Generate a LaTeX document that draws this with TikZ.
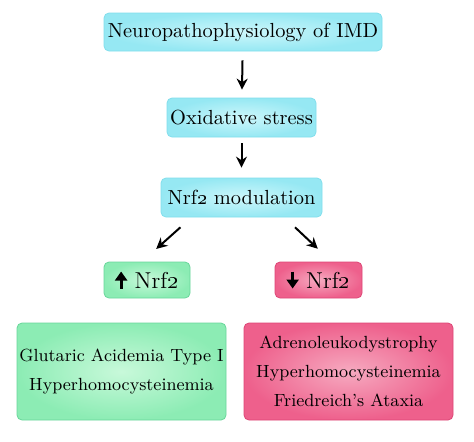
\documentclass[tikz,border=0pt]{standalone}
\usetikzlibrary{arrows.meta,shadings}

\definecolor{cyanout}{RGB}{150,232,243}
\definecolor{cyanin}{RGB}{205,247,251}
\definecolor{cyanline}{RGB}{130,222,236}
\definecolor{greenout}{RGB}{140,236,180}
\definecolor{greenin}{RGB}{200,249,218}
\definecolor{greenline}{RGB}{105,214,155}
\definecolor{pinkout}{RGB}{238,96,140}
\definecolor{pinkin}{RGB}{246,170,192}
\definecolor{pinkline}{RGB}{222,70,118}

\newcommand{\upmark}{\tikz[baseline=0pt]\draw[line width=1.6pt,-{Triangle[length=4.5pt,width=6pt]}] (0,0)--(0,8.5pt);}
\newcommand{\downmark}{\tikz[baseline=0pt]\draw[line width=1.6pt,-{Triangle[length=4.5pt,width=6pt]}] (0,8.5pt)--(0,0);}

\begin{document}
\begin{tikzpicture}[x=0.5pt,y=-0.5pt]

    \tikzset{
      box/.style={
        rounded corners=2.5pt,
        inner sep=0pt,
        align=center,
        font=\fontsize{10.2}{14.5}\selectfont,
        line width=0.4pt,
      },
      cyanbox/.style={box,draw=cyanline,inner color=cyanin,outer color=cyanout},
      greenbox/.style={box,draw=greenline,inner color=greenin,outer color=greenout},
      pinkbox/.style={box,draw=pinkline,inner color=pinkin,outer color=pinkout},
      small/.style={font=\fontsize{11.5}{14}\selectfont},
      big/.style={font=\fontsize{8.8}{14.6}\selectfont},
      arr/.style={line width=1pt,-{Stealth[length=5.5pt,width=5.5pt]}},
    }
    \useasboundingbox[fill=white] (0,0) rectangle (474,441);

	\node[cyanbox,minimum width=139pt,minimum height=19pt] (imd) at (243,32) {Neuropathophysiology of IMD};
	\node[cyanbox,minimum width=74.5pt,minimum height=19.5pt] (oxi) at (241.5,117.5) {Oxidative stress};
	\node[cyanbox,minimum width=80.5pt,minimum height=19.5pt] (mod) at (241.5,197.5) {Nrf\oldstylenums{2} modulation};
	\node[greenbox,small,minimum width=43pt,minimum height=18pt] (up) at (147,280) {\upmark\ Nrf\oldstylenums{2}};
	\node[pinkbox,small,minimum width=43.5pt,minimum height=18pt] (down) at (318.5,280) {\downmark\ Nrf\oldstylenums{2}};
	\node[greenbox,big,minimum width=104.5pt,minimum height=48.5pt] (gluta) at (121.5,371.5) {Glutaric Acidemia Type I\\Hyperhomocysteinemia};
	\node[pinkbox,big,minimum width=104.5pt,minimum height=48.5pt] (adreno) at (348.5,371.5) {Adrenoleukodystrophy\\Hyperhomocysteinemia\\Friedreich's Ataxia};

	\draw[arr,shorten <=4.5pt,shorten >=4pt] (imd) -- (oxi);
	\draw[arr,shorten <=3pt,shorten >=5pt] (oxi) -- (mod);
	\draw[arr,shorten <=7.4pt,shorten >=9.5pt] ([xshift=-25pt]mod.south) -- ([xshift=-2.5pt]up.north);
	\draw[arr,shorten <=7.2pt,shorten >=9.4pt] ([xshift=21.5pt]mod.south) -- ([xshift=6.5pt]down.north);

\end{tikzpicture}
\end{document}
